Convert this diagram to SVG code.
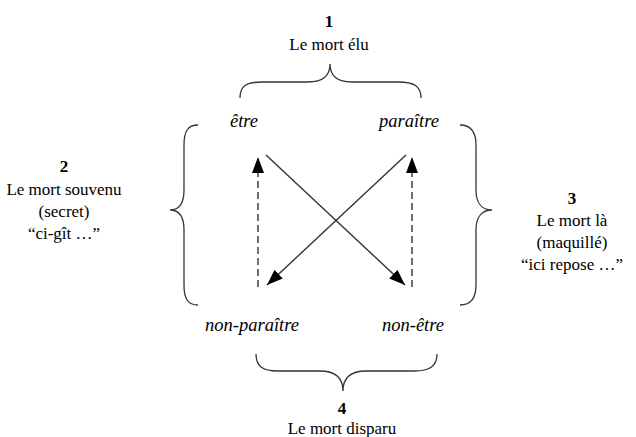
<svg xmlns="http://www.w3.org/2000/svg" width="636" height="437" viewBox="0 0 636 437">
<defs>
<style>
text{font-family:"Liberation Serif","Times New Roman",serif;font-size:17px;fill:#000;text-anchor:middle}
.b{font-weight:bold}
.i{font-style:italic;font-size:18.5px}
.brace{fill:none;stroke:#333;stroke-width:1.3}
.conn{fill:none;stroke:#333;stroke-width:1.4}
.dash{stroke-dasharray:7,4}
</style>
<marker id="ah" viewBox="0 0 16 12" refX="16" refY="6" markerWidth="16" markerHeight="12" markerUnits="userSpaceOnUse" orient="auto">
<path d="M0,0 L16,6 L0,12 Z" fill="#000"/>
</marker>
</defs>
<rect width="636" height="437" fill="#fff"/>
<g id="n1">
<text x="329" y="27" class="b">1</text>
<text x="329" y="50">Le mort élu</text>
<path class="brace" d="M240,98 C240,86 246,82 262,82 L308,82 C322,82 330,76 330,64 C330,76 338,82 352,82 L398,82 C414,82 421,86 421,98"/>
</g>
<g id="n2">
<text x="64" y="172" class="b">2</text>
<text x="64" y="195">Le mort souvenu</text>
<text x="64" y="217">(secret)</text>
<text x="64" y="239">“ci-gît …”</text>
<path class="brace" d="M198,125 C188,125 184,131 184,145 L184,190 C184,203 179,210 170,210 C179,210 184,217 184,230 L184,285 C184,299 188,305 198,305"/>
</g>
<g id="n3">
<text x="572" y="204" class="b">3</text>
<text x="572" y="226">Le mort là</text>
<text x="572" y="248">(maquillé)</text>
<text x="572" y="270">“ici repose …”</text>
<path class="brace" d="M460,125 C470,125 476,131 476,145 L476,190 C476,203 482,210 492,210 C482,210 476,217 476,230 L476,285 C476,299 470,305 460,305"/>
</g>
<g id="n4">
<text x="342" y="414" class="b">4</text>
<text x="342" y="434">Le mort disparu</text>
<path class="brace" d="M256,354 C256,366 262,371 278,371 L320,371 C335,371 343,378 343,391 C343,378 351,371 366,371 L414,371 C430,371 437,366 437,354"/>
</g>
<g id="etre"><text x="244" y="127" class="i">être</text></g>
<g id="paraitre"><text x="409" y="127" class="i">paraître</text></g>
<g id="nonparaitre"><text x="252" y="331" class="i">non-paraître</text></g>
<g id="nonetre"><text x="413" y="331" class="i">non-être</text></g>
<g id="connectors">
<line class="conn dash" x1="258" y1="287" x2="258" y2="157" marker-end="url(#ah)"/>
<line class="conn dash" x1="412" y1="287" x2="412" y2="157" marker-end="url(#ah)"/>
<line class="conn" x1="266" y1="155" x2="405" y2="285" marker-end="url(#ah)"/>
<line class="conn" x1="406" y1="155" x2="267" y2="285" marker-end="url(#ah)"/>
</g>
</svg>
